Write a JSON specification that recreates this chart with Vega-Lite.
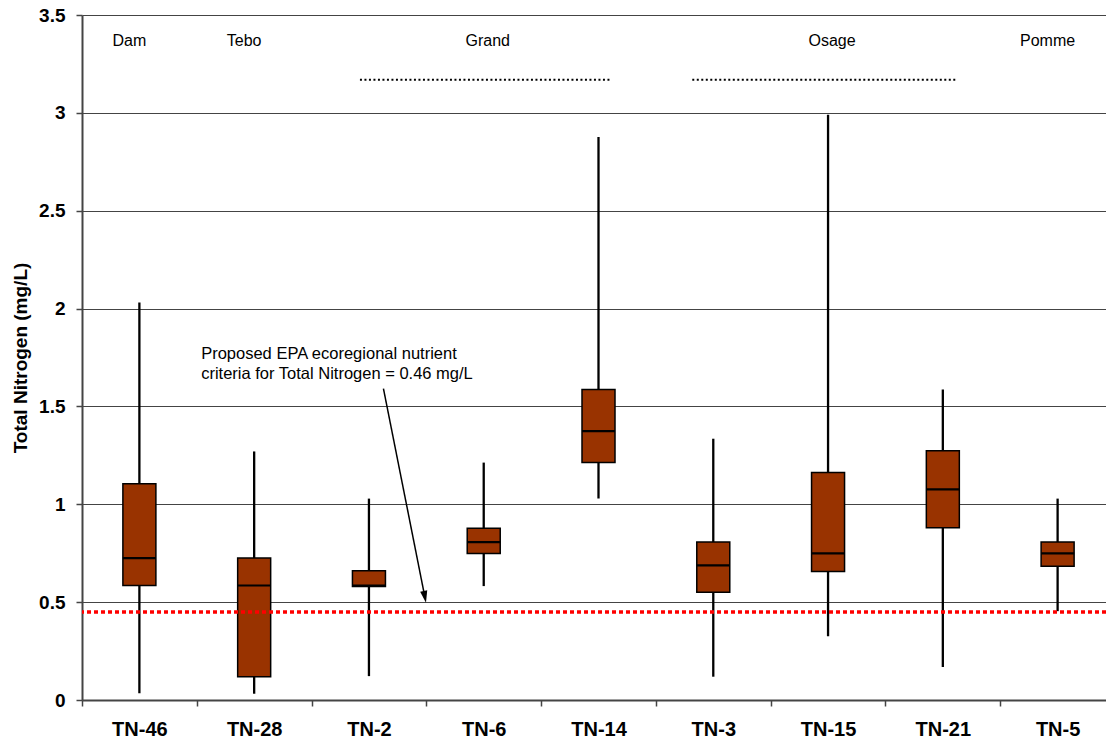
{
  "$schema": "https://vega.github.io/schema/vega-lite/v6.json",
  "autosize": "none",
  "padding": {"left": 82, "top": 15, "right": 0, "bottom": 42},
  "width": 1024,
  "height": 685,
  "background": "white",
  "config": {
    "font": "Liberation Sans",
    "view": {"stroke": null}
  },
  "datasets": {
    "stats": [
      {"station": "TN-46", "min": 0.034, "q1": 0.585, "median": 0.725, "q3": 1.105, "max": 2.031},
      {"station": "TN-28", "min": 0.032, "q1": 0.119, "median": 0.585, "q3": 0.725, "max": 1.27},
      {"station": "TN-2", "min": 0.122, "q1": 0.58, "median": 0.585, "q3": 0.66, "max": 1.029},
      {"station": "TN-6", "min": 0.582, "q1": 0.749, "median": 0.807, "q3": 0.878, "max": 1.213},
      {"station": "TN-14", "min": 1.03, "q1": 1.214, "median": 1.374, "q3": 1.586, "max": 2.877},
      {"station": "TN-3", "min": 0.119, "q1": 0.55, "median": 0.688, "q3": 0.807, "max": 1.335},
      {"station": "TN-15", "min": 0.326, "q1": 0.657, "median": 0.749, "q3": 1.163, "max": 2.99},
      {"station": "TN-21", "min": 0.168, "q1": 0.88, "median": 1.076, "q3": 1.274, "max": 1.586},
      {"station": "TN-5", "min": 0.454, "q1": 0.684, "median": 0.749, "q3": 0.807, "max": 1.029}
    ]
  },
  "encoding": {
    "x": {
      "field": "station",
      "type": "nominal",
      "sort": null,
      "scale": {
        "type": "band",
        "domain": ["TN-46", "TN-28", "TN-2", "TN-6", "TN-14", "TN-3", "TN-15", "TN-21", "TN-5"],
        "range": [0, 1033],
        "paddingInner": 0,
        "paddingOuter": 0
      },
      "axis": {
        "title": null,
        "labelAngle": 0,
        "labelFont": "Liberation Sans",
        "labelFontSize": 20,
        "labelFontWeight": "bold",
        "labelColor": "#000000",
        "labelPadding": 13,
        "tickBand": "extent",
        "tickSize": 6,
        "tickColor": "#444444",
        "tickWidth": 1.5,
        "domainColor": "#444444",
        "domainWidth": 2,
        "grid": false
      }
    }
  },
  "layer": [
    {
      "data": {"name": "stats"},
      "mark": {"type": "rule", "color": "#000000", "strokeWidth": 2.3},
      "encoding": {
        "y": {
          "field": "min",
          "type": "quantitative",
          "scale": {"domain": [0, 3.5], "nice": false, "zero": true},
          "axis": {
            "title": "Total Nitrogen (mg/L)",
            "titleFont": "Liberation Sans",
            "titleFontSize": 19,
            "titleFontWeight": "bold",
            "titleColor": "#000000",
            "titlePadding": 8,
            "values": [0, 0.5, 1, 1.5, 2, 2.5, 3, 3.5],
            "labelExpr": "'' + datum.value",
            "labelFont": "Liberation Sans",
            "labelFontSize": 19,
            "labelFontWeight": "bold",
            "labelColor": "#000000",
            "labelPadding": 11,
            "tickSize": 6,
            "tickColor": "#444444",
            "tickWidth": 1.5,
            "domainColor": "#444444",
            "domainWidth": 2,
            "grid": true,
            "gridColor": "#444444",
            "gridWidth": 1
          }
        },
        "y2": {"field": "max"}
      }
    },
    {
      "data": {"name": "stats"},
      "mark": {"type": "bar", "width": 33, "fill": "#993300", "stroke": "#000000", "strokeWidth": 1.5},
      "encoding": {
        "y": {"field": "q1", "type": "quantitative"},
        "y2": {"field": "q3"}
      }
    },
    {
      "data": {"name": "stats"},
      "mark": {"type": "tick", "color": "#000000", "size": 33, "thickness": 2.2, "opacity": 1},
      "encoding": {
        "y": {"field": "median", "type": "quantitative"}
      }
    },
    {
      "data": {"values": [{"level": 0.45}]},
      "mark": {"type": "rule", "color": "#ff0000", "strokeWidth": 3.5, "strokeDash": [4, 3]},
      "encoding": {
        "x": null,
        "y": {"field": "level", "type": "quantitative"}
      }
    },
    {
      "data": {"values": [{"from": "TN-2", "to": "TN-14", "level": 3.169}]},
      "mark": {"type": "rule", "color": "#000000", "strokeWidth": 2, "strokeDash": [2, 2.5], "xOffset": -9, "x2Offset": 12},
      "encoding": {
        "x": {"field": "from", "type": "nominal"},
        "x2": {"field": "to"},
        "y": {"field": "level", "type": "quantitative"}
      }
    },
    {
      "data": {"values": [{"from": "TN-3", "to": "TN-21", "level": 3.169}]},
      "mark": {"type": "rule", "color": "#000000", "strokeWidth": 2, "strokeDash": [2, 2.5], "xOffset": -21, "x2Offset": 14},
      "encoding": {
        "x": {"field": "from", "type": "nominal"},
        "x2": {"field": "to"},
        "y": {"field": "level", "type": "quantitative"}
      }
    },
    {
      "data": {"values": [
        {"group": "Dam", "station": "TN-46", "level": 3.367},
        {"group": "Tebo", "station": "TN-28", "level": 3.367},
        {"group": "Pomme", "station": "TN-5", "level": 3.367}
      ]},
      "mark": {"type": "text", "font": "Liberation Sans", "fontSize": 16, "color": "#000000", "baseline": "middle", "align": "center", "dx": -10},
      "encoding": {
        "y": {"field": "level", "type": "quantitative"},
        "text": {"field": "group"}
      }
    },
    {
      "data": {"values": [
        {"group": "Grand", "station": "TN-6", "level": 3.367},
        {"group": "Osage", "station": "TN-15", "level": 3.367}
      ]},
      "mark": {"type": "text", "font": "Liberation Sans", "fontSize": 16, "color": "#000000", "baseline": "middle", "align": "center", "dx": 4},
      "encoding": {
        "y": {"field": "level", "type": "quantitative"},
        "text": {"field": "group"}
      }
    },
    {
      "data": {"values": [{"station": "TN-28", "level": 1.766, "note": ["Proposed EPA ecoregional nutrient", "criteria for Total Nitrogen = 0.46 mg/L"]}]},
      "mark": {"type": "text", "font": "Liberation Sans", "fontSize": 16.5, "color": "#000000", "align": "left", "baseline": "middle", "lineHeight": 20, "xOffset": -53},
      "encoding": {
        "y": {"field": "level", "type": "quantitative"},
        "text": {"field": "note"}
      }
    },
    {
      "data": {"values": [{"station": "TN-2", "start": 1.591, "end": 0.53}]},
      "mark": {"type": "rule", "color": "#000000", "strokeWidth": 1.5, "xOffset": 14.5, "x2Offset": 55.8},
      "encoding": {
        "x2": {"field": "station"},
        "y": {"field": "start", "type": "quantitative"},
        "y2": {"field": "end"}
      }
    },
    {
      "data": {"values": [{"station": "TN-2", "tip": 0.527}]},
      "mark": {"type": "point", "shape": "M-0.6,-1L0.6,-1L0,1Z", "filled": true, "color": "#000000", "size": 144, "angle": 349, "xOffset": 55.9, "opacity": 1, "strokeWidth": 0},
      "encoding": {
        "y": {"field": "tip", "type": "quantitative"}
      }
    }
  ]
}
